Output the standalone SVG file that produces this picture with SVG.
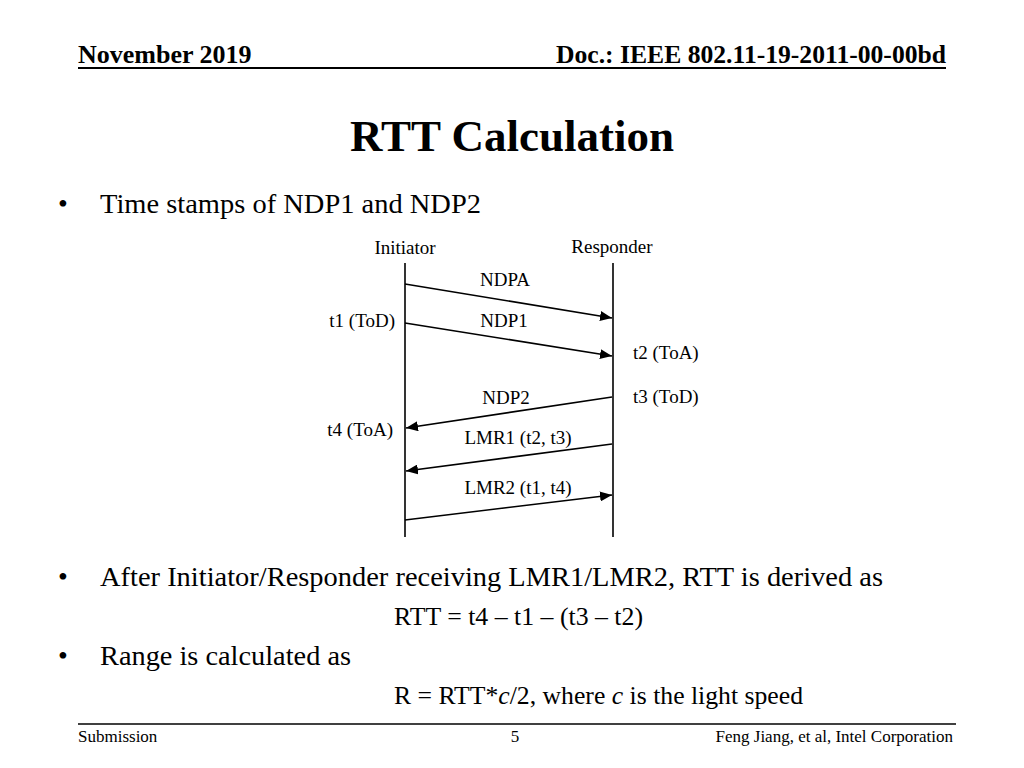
<svg xmlns="http://www.w3.org/2000/svg" width="1024" height="768" viewBox="0 0 1024 768">
<style>
.s{font-family:"Liberation Serif","Times New Roman",serif;fill:#000}
.hdr{font-size:26px;font-weight:bold}
.title{font-size:45px;font-weight:bold}
.body{font-size:28px}
.f{font-size:25px}
.lb{font-size:19px}
.ft{font-size:17px}
.ln{stroke:#000;stroke-width:1.6;fill:none}
.msg{stroke:#000;stroke-width:1.6;fill:none;marker-end:url(#ah)}
</style>
<defs>
<marker id="ah" markerUnits="userSpaceOnUse" markerWidth="14" markerHeight="10" refX="12" refY="5" orient="auto">
<path d="M0,0 L12,5 L0,10 Z" fill="#000"/>
</marker>
</defs>
<rect width="1024" height="768" fill="#fff"/>
<g id="header">
<text class="s hdr" x="78" y="63">November 2019</text>
<text class="s hdr" x="946" y="63" text-anchor="end" textLength="390" lengthAdjust="spacingAndGlyphs">Doc.: IEEE 802.11-19-2011-00-00bd</text>
<line x1="78" y1="68" x2="946" y2="68" stroke="#000" stroke-width="2"/>
</g>
<text id="title" class="s title" x="512" y="151" text-anchor="middle">RTT Calculation</text>
<g id="bullet1">
<text class="s body" x="58" y="213">•</text>
<text class="s body" x="100" y="213" textLength="381" lengthAdjust="spacingAndGlyphs">Time stamps of NDP1 and NDP2</text>
</g>
<g id="initiator">
<text class="s lb" x="405" y="254" text-anchor="middle">Initiator</text>
<line class="ln" x1="405" y1="263" x2="405" y2="537"/>
</g>
<g id="responder">
<text class="s lb" x="612" y="253" text-anchor="middle">Responder</text>
<line class="ln" x1="613" y1="263" x2="613" y2="537"/>
</g>
<g id="connectors">
<line class="msg" x1="405" y1="284" x2="612" y2="318"/>
<line class="msg" x1="405" y1="323" x2="612" y2="356"/>
<line class="msg" x1="612" y1="397" x2="406" y2="428"/>
<line class="msg" x1="612" y1="444" x2="406" y2="471"/>
<line class="msg" x1="405" y1="520" x2="612" y2="495"/>
</g>
<g id="labels">
<text class="s lb" x="505" y="286" text-anchor="middle">NDPA</text>
<text class="s lb" x="504" y="327" text-anchor="middle">NDP1</text>
<text class="s lb" x="395" y="327" text-anchor="end">t1 (ToD)</text>
<text class="s lb" x="633" y="359">t2 (ToA)</text>
<text class="s lb" x="506" y="404" text-anchor="middle">NDP2</text>
<text class="s lb" x="633" y="403">t3 (ToD)</text>
<text class="s lb" x="393" y="436" text-anchor="end">t4 (ToA)</text>
<text class="s lb" x="518" y="444" text-anchor="middle">LMR1 (t2, t3)</text>
<text class="s lb" x="518" y="494" text-anchor="middle">LMR2 (t1, t4)</text>
</g>
<g id="bullet2">
<text class="s body" x="58" y="586">•</text>
<text class="s body" x="100" y="586" textLength="783" lengthAdjust="spacingAndGlyphs">After Initiator/Responder receiving LMR1/LMR2, RTT is derived as</text>
<text class="s f" x="394" y="625" textLength="249" lengthAdjust="spacingAndGlyphs">RTT = t4 – t1 – (t3 – t2)</text>
</g>
<g id="bullet3">
<text class="s body" x="58" y="665">•</text>
<text class="s body" x="100" y="665" textLength="251" lengthAdjust="spacingAndGlyphs">Range is calculated as</text>
<text class="s f" x="394" y="704" textLength="409" lengthAdjust="spacingAndGlyphs">R = RTT*<tspan font-style="italic">c</tspan>/2, where <tspan font-style="italic">c</tspan> is the light speed</text>
</g>
<g id="footer">
<line x1="78" y1="724" x2="956" y2="724" stroke="#000" stroke-width="1.5"/>
<text class="s ft" x="78" y="742">Submission</text>
<text class="s ft" x="515" y="742" text-anchor="middle">5</text>
<text class="s ft" x="953" y="742" text-anchor="end">Feng Jiang, et al, Intel Corporation</text>
</g>
</svg>
